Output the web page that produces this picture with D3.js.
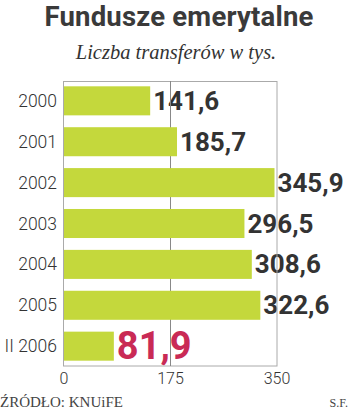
<!DOCTYPE html>
<html><head><meta charset="utf-8">
<script src="https://cdn.jsdelivr.net/npm/d3@7"></script>
<style>body{margin:0;background:#fff}svg{display:block}</style>
</head><body>
<svg id="c" width="350" height="409"></svg>
<script>
const categories = ["2000","2001","2002","2003","2004","2005","II 2006"];
const values = [141.6, 185.7, 345.9, 296.5, 308.6, 322.6, 81.9];
const valueLabels = ["141,6","185,7","345,9","296,5","308,6","322,6","81,9"];
const tickValues = [0, 175, 350];
const title = "Fundusze emerytalne";
const subtitle = "Liczba transferów w tys.";
const source = "ŹRÓDŁO: KNUiFE";
const author = "S.F.";

(function () {
const svg = d3.select("#c");
const mLeft = 64, mRight = 277, mTop = 81, mBottom = 366;
const x = d3.scaleLinear().domain([0, 350]).range([mLeft, mRight]);
const y = d3.scaleBand().domain(categories).range([mTop, mBottom]).paddingInner(0.29).paddingOuter(0.13);

svg.append("text").attr("x", 179).attr("y", 26).attr("text-anchor", "middle")
  .attr("font-family", "Roboto").attr("font-weight", "bold").attr("font-size", 27.5)
  .attr("letter-spacing", 0.2)
  .attr("fill", "#3a3a3a").text(title);
svg.append("text").attr("x", 176).attr("y", 59).attr("text-anchor", "middle")
  .attr("font-family", "Liberation Serif").attr("font-style", "italic").attr("font-size", 20.5)
  .attr("fill", "#333").text(subtitle);

const last = categories.length - 1;
svg.append("g").selectAll("text").data(values).join("text")
  .attr("x", (d) => x(d) + 3)
  .attr("y", (d, i) => y(categories[i]) + y.bandwidth() / 2 + (i === last ? 13 : 9))
  .attr("font-family", "Roboto").attr("font-weight", "bold")
  .attr("font-size", (d, i) => i === last ? 38 : 26)
  .attr("fill", (d, i) => i === last ? "#c92a55" : "#333")
  .text((d, i) => valueLabels[i]);

const g = svg.append("g");
g.append("rect").attr("x", mLeft - 0.5).attr("y", mTop + 0.5).attr("width", mRight - mLeft + 0.5).attr("height", mBottom - mTop - 0.5)
  .attr("fill", "none").attr("stroke", "#aaa").attr("stroke-width", 1);
g.selectAll("line").data(tickValues.slice(1, -1)).join("line")
  .attr("x1", (d) => Math.round(x(d)) - 0.5).attr("x2", (d) => Math.round(x(d)) - 0.5)
  .attr("y1", mTop).attr("y2", mBottom).attr("stroke", "#888");

svg.append("g").selectAll("rect").data(values).join("rect")
  .attr("x", x(0)).attr("y", (d, i) => y(categories[i]))
  .attr("width", (d) => x(d) - x(0)).attr("height", y.bandwidth())
  .attr("fill", "#c4d83c");

svg.append("g").selectAll("text").data(categories).join("text")
  .attr("x", 57).attr("y", (d) => y(d) + y.bandwidth() / 2 + 6)
  .attr("text-anchor", "end").attr("font-family", "Roboto").attr("font-weight", 300)
  .attr("font-size", 17.5).attr("fill", "#333").text((d) => d);

svg.append("g").selectAll("text").data(tickValues).join("text")
  .attr("x", (d) => x(d)).attr("y", 384).attr("text-anchor", "middle")
  .attr("font-family", "Roboto").attr("font-weight", 300).attr("font-size", 16)
  .attr("fill", "#333").text((d) => d);

svg.append("text").attr("x", 0).attr("y", 407).attr("font-family", "Liberation Sans Narrow")
  .attr("font-size", 15).attr("fill", "#444").text(source);
svg.append("text").attr("x", 348).attr("y", 407).attr("text-anchor", "end").attr("font-family", "Liberation Serif")
  .attr("font-size", 12).attr("fill", "#444").text(author);
})();
</script>
</body></html>
